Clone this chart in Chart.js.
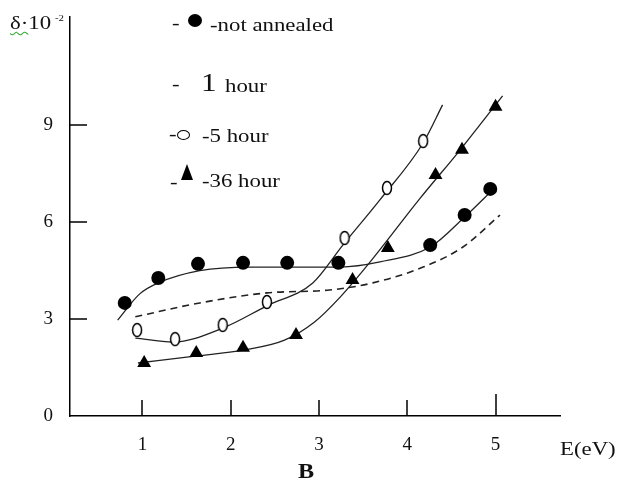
<!DOCTYPE html>
<html>
<head>
<meta charset="utf-8">
<script src="https://cdn.jsdelivr.net/npm/chart.js@4.4.0/dist/chart.umd.min.js"></script>
<style>
  html, body { margin: 0; padding: 0; background: #fff; }
  #wrap { position: relative; width: 622px; height: 487px; font-family: "Liberation Serif", "Times New Roman", serif; color: #111; }
  #chart { position: absolute; left: 0; top: 0; }
  .t { position: absolute; white-space: nowrap; font-size: 19px; line-height: 1; transform: scaleX(1.2); transform-origin: 0 0; }
  .dot { position: absolute; width: 14px; height: 13px; border-radius: 50%; background: #000; }
  .ring { position: absolute; width: 11px; height: 8px; border: 1.5px solid #000; border-radius: 50%; }
  .tri { position: absolute; width: 0; height: 0; border-left: 6px solid transparent; border-right: 6px solid transparent; border-bottom: 16px solid #000; }
  .wavy { text-decoration: underline wavy #3a3; text-decoration-thickness: 1px; text-underline-offset: 2px; }
</style>
</head>
<body>
<div id="wrap">
  <canvas id="chart" width="622" height="487"></canvas>

  <!-- axis titles -->
  <div class="t" style="left:10px; top:13px;"><span class="wavy">δ·</span>10</div>
  <div class="t" style="left:55px; top:14px; font-size:9px;">-2</div>
  <div class="t" style="left:560px; top:439px;">E(eV)</div>
  <div class="t" style="left:298px; top:461px; font-size:21px; font-weight:bold; transform:scaleX(1.15);">B</div>

  <!-- legend -->
  <div class="t" style="left:172px; top:13px;">-</div>
  <div class="dot" style="left:188px; top:14px;"></div>
  <div class="t" style="left:210px; top:15px;">-not annealed</div>

  <div class="t" style="left:172px; top:74px;">-</div>
  <div class="t" style="left:201px; top:70px; font-size:26px;">1</div>
  <div class="t" style="left:225px; top:76px;">hour</div>

  <div class="t" style="left:169px; top:124px;">-</div>
  <div class="ring" style="left:177px; top:130px;"></div>
  <div class="t" style="left:202px; top:126px;">-5 hour</div>

  <div class="t" style="left:170px; top:172px;">-</div>
  <div class="tri" style="left:181px; top:164px;"></div>
  <div class="t" style="left:202px; top:171px;">-36 hour</div>
</div>

<script>
// axis ticks
const xTicks = [1, 2, 3, 4, 5];
const yTicks = [0, 3, 6, 9];

// measured points: photon energy E (eV) and delta (x10^-2)
const notAnnealedE = [0.80, 1.18, 1.63, 2.14, 2.64, 3.22, 4.26, 4.65, 4.94];
const notAnnealedD = [3.50, 4.27, 4.71, 4.74, 4.74, 4.74, 5.29, 6.22, 7.03];
const fiveHourE = [0.94, 1.37, 1.91, 2.41, 3.29, 3.77, 4.18];
const fiveHourD = [2.66, 2.38, 2.82, 3.53, 5.51, 7.06, 8.51];
const h36E = [1.02, 1.61, 2.14, 2.74, 3.38, 3.78, 4.32, 4.62, 5.00];
const h36D = [1.64, 1.95, 2.11, 2.51, 4.21, 5.20, 7.46, 8.24, 9.57];

// drawn trend curves
const notAnnealedFitE = [0.72, 0.97, 1.18, 1.65, 2.22, 2.78, 3.24, 3.69, 4.26, 4.65, 4.99];
const notAnnealedFitD = [2.97, 3.78, 4.12, 4.50, 4.61, 4.61, 4.61, 4.77, 5.23, 6.16, 7.06];
const oneHourFitE = [0.92, 1.65, 2.41, 3.12, 3.61, 4.18, 4.63, 5.05];
const oneHourFitD = [3.07, 3.50, 3.81, 3.90, 4.12, 4.61, 5.23, 6.22];
const fiveHourFitE = [0.92, 1.35, 1.91, 2.41, 2.93, 3.27, 3.69, 4.18, 4.40];
const fiveHourFitD = [2.41, 2.29, 2.72, 3.41, 4.12, 5.29, 6.69, 8.45, 9.63];
const h36FitE = [0.95, 1.62, 2.14, 2.61, 2.95, 3.24, 3.58, 4.14, 4.60, 5.08];
const h36FitD = [1.64, 1.86, 2.04, 2.35, 2.91, 3.68, 4.77, 6.72, 8.24, 9.91];

const pts = (xs, ys) => xs.map((x, i) => ({ x: x, y: ys[i] }));

// open, slightly tall ellipse marker
function ringMarker() {
  const c = document.createElement("canvas");
  c.width = 12; c.height = 16;
  const g = c.getContext("2d");
  g.fillStyle = "#fff";
  g.strokeStyle = "#000";
  g.lineWidth = 1.5;
  g.beginPath();
  g.ellipse(6, 8, 4.5, 6.5, 0, 0, Math.PI * 2);
  g.fill();
  g.stroke();
  return c;
}

function curve(data, dash, width) {
  return {
    data: data, showLine: true, pointRadius: 0, borderColor: "#222",
    borderWidth: width, borderDash: dash, cubicInterpolationMode: "monotone", fill: false,
  };
}

// short inward tick marks like the original
const innerTicks = {
  id: "innerTicks",
  afterDraw(chart) {
    const { ctx, chartArea: a, scales: { x, y } } = chart;
    ctx.save();
    ctx.strokeStyle = "#000";
    ctx.lineWidth = 1.5;
    ctx.beginPath();
    y.ticks.forEach((t) => {
      if (t.value === 0) return;
      const py = Math.round(y.getPixelForValue(t.value));
      ctx.moveTo(a.left, py);
      ctx.lineTo(a.left + 17, py);
    });
    x.ticks.forEach((t) => {
      const px = Math.round(x.getPixelForValue(t.value));
      ctx.moveTo(px, a.bottom);
      ctx.lineTo(px, a.bottom - (t.value === 5 ? 22 : 16));
    });
    ctx.stroke();
    ctx.restore();
  },
};

const tickFont = { family: "'Liberation Serif', serif", size: 19 };

// no extra edge padding from the tick labels
const noPad = (s) => { s.paddingTop = 0; s.paddingBottom = 0; s.paddingLeft = 0; s.paddingRight = 0; };

new Chart(document.getElementById("chart"), {
  type: "scatter",
  data: {
    datasets: [
      { data: pts(notAnnealedE, notAnnealedD), pointStyle: "circle", pointRadius: 7, backgroundColor: "#000", borderColor: "#000", borderWidth: 0 },
      { data: pts(fiveHourE, fiveHourD), pointStyle: ringMarker(), pointRadius: 6 },
      { data: pts(h36E, h36D), pointStyle: "triangle", pointRadius: 8, backgroundColor: "#000", borderColor: "#000", borderWidth: 0 },
      curve(pts(notAnnealedFitE, notAnnealedFitD), [], 1.3),
      curve(pts(oneHourFitE, oneHourFitD), [7, 5], 1.6),
      curve(pts(fiveHourFitE, fiveHourFitD), [], 1.3),
      curve(pts(h36FitE, h36FitD), [], 1.3),
    ],
  },
  options: {
    responsive: false,
    animation: false,
    layout: { padding: { left: 0, top: 17, right: 62, bottom: 0 } },
    plugins: { legend: { display: false }, tooltip: { enabled: false } },
    scales: {
      x: {
        type: "linear",
        min: 0.18,
        max: 5.73,
        afterFit: (s) => { s.height = 71; noPad(s); },
        afterBuildTicks: (s) => { s.ticks = xTicks.map((v) => ({ value: v })); },
        grid: { display: false, drawTicks: false },
        border: { color: "#000", width: 1.5 },
        ticks: { color: "#111", font: tickFont, padding: 18, maxRotation: 0 },
      },
      y: {
        type: "linear",
        min: 0,
        max: 12.35,
        afterFit: (s) => { s.width = 70; noPad(s); },
        afterBuildTicks: (s) => { s.ticks = yTicks.map((v) => ({ value: v })); },
        grid: { display: false, drawTicks: false },
        border: { color: "#000", width: 1.5 },
        ticks: { color: "#111", font: tickFont, padding: 17 },
      },
    },
  },
  plugins: [innerTicks],
});
</script>
</body>
</html>
